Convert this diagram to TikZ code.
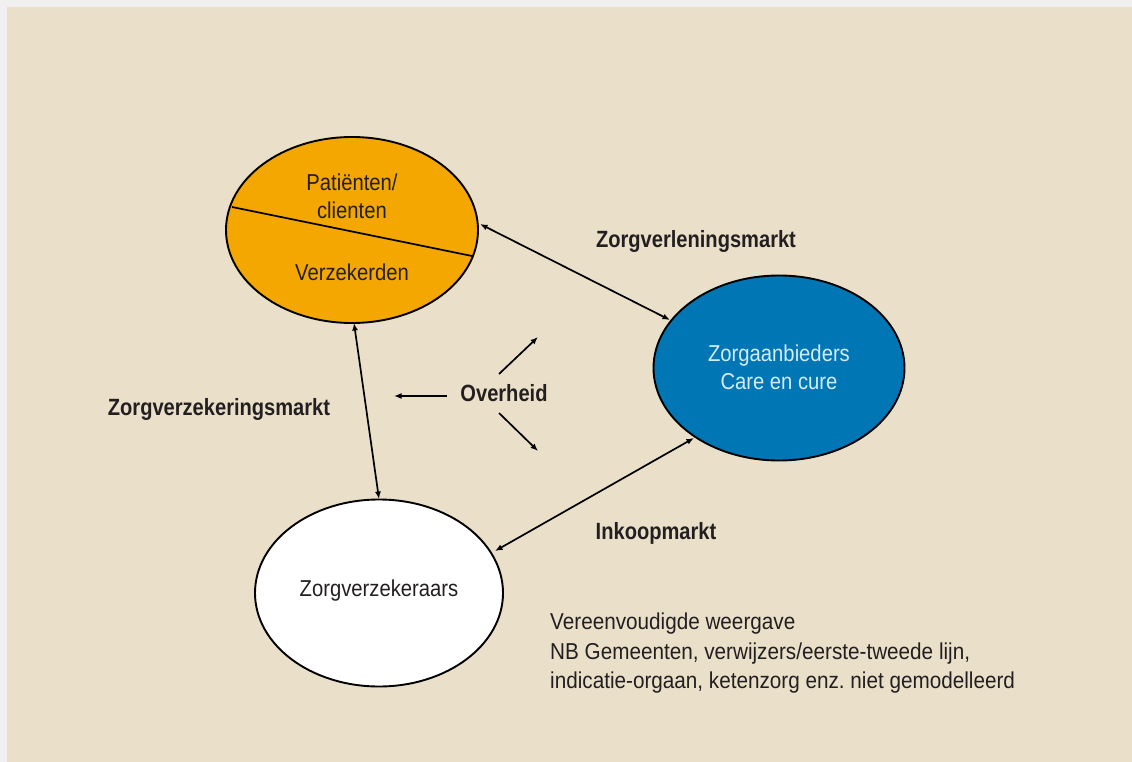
\documentclass[tikz,border=0pt]{standalone}
\usepackage{fontspec}
\setmainfont{Liberation Sans}
\newfontfamily\ellfont{Liberation Sans}[FakeStretch=0.88]
\newfontfamily\notefont{Liberation Sans}[FakeStretch=0.90]
\newfontfamily\labfont{Liberation Sans}[FakeStretch=0.855]
\usetikzlibrary{arrows.meta,shapes.geometric}
\definecolor{bgbeige}{HTML}{EAE0C9}
\definecolor{bggray}{HTML}{F0F0F0}
\definecolor{orangefill}{HTML}{F4A700}
\definecolor{bluefill}{HTML}{0076B4}
\definecolor{bluetext}{HTML}{D4ECF8}
\definecolor{txt}{HTML}{231F20}
\tikzset{
  party/.style={draw=black, line width=1.9pt, ellipse, inner sep=0},
  conn/.style={line width=1.7pt, {Latex[length=7.5pt,width=6pt]}-{Latex[length=7.5pt,width=6pt]}},
  single/.style={line width=1.7pt, -{Latex[length=7.5pt,width=6pt]}},
  lab/.style={font=\labfont\fontsize{23.5}{26}\selectfont\bfseries, text=txt},
  body/.style={font=\ellfont\fontsize{23}{28}\selectfont, text=txt},
  note/.style={font=\notefont\fontsize{23}{29.5}\selectfont\frenchspacing, text=txt},
}
\begin{document}
\begin{tikzpicture}[x=1pt,y=-1pt]
\useasboundingbox (0,0) rectangle (1132,762);
\fill[bggray] (0,0) rectangle (1132,762);
\fill[bgbeige] (7,7) rectangle (1132,762);
% ellipses
\node[party, fill=orangefill, minimum width=252, minimum height=186] (pat) at (352,230) {};
\draw[line width=1.7pt] (232,207) -- (472,256);
\node[body, align=center] (patt) at (352,196) {Patiënten/\\clienten};
\node[body] (verz) at (352,272) {Verzekerden};
\node[party, fill=bluefill, minimum width=251, minimum height=185] (aanb) at (779,368) {};
\node[body, align=center, text=bluetext] (aanbt) at (779,367) {Zorgaanbieders\\Care en cure};
\node[party, fill=white, minimum width=248, minimum height=187] (verzr) at (379,593) {};
\node[body] (verzrt) at (379,591) {Zorgverzekeraars};
% connectors
\coordinate (p1) at (480,224);
\coordinate (p2) at (670,320);
\coordinate (p3) at (354,323);
\coordinate (p4) at (379,499);
\coordinate (p5) at (495,551);
\coordinate (p6) at (694,438);
\draw[conn] (p1) -- (p2);
\draw[conn] (p3) -- (p4);
\draw[conn] (p5) -- (p6);
% labels
\node[lab] (l1) at (696,241) {Zorgverleningsmarkt};
\node[lab] (l2) at (219,409) {Zorgverzekeringsmarkt};
\node[lab] (l3) at (656,533) {Inkoopmarkt};
\node[lab] (ov) at (504,393) {Overheid};
\coordinate (o1s) at (447,396); \coordinate (o1e) at (394,396);
\coordinate (o2s) at (499,374); \coordinate (o2e) at (538,337);
\coordinate (o3s) at (499,413); \coordinate (o3e) at (538,451);
\draw[single] (o1s) -- (o1e);
\draw[single] (o2s) -- (o2e);
\draw[single] (o3s) -- (o3e);
\node[note, align=left, anchor=north west, inner sep=0] (nt) at (550,613) {Vereenvoudigde weergave\\NB Gemeenten, verwijzers/eerste-tweede lijn,\\indicatie-orgaan, ketenzorg enz. niet gemodelleerd};
\end{tikzpicture}
\end{document}
